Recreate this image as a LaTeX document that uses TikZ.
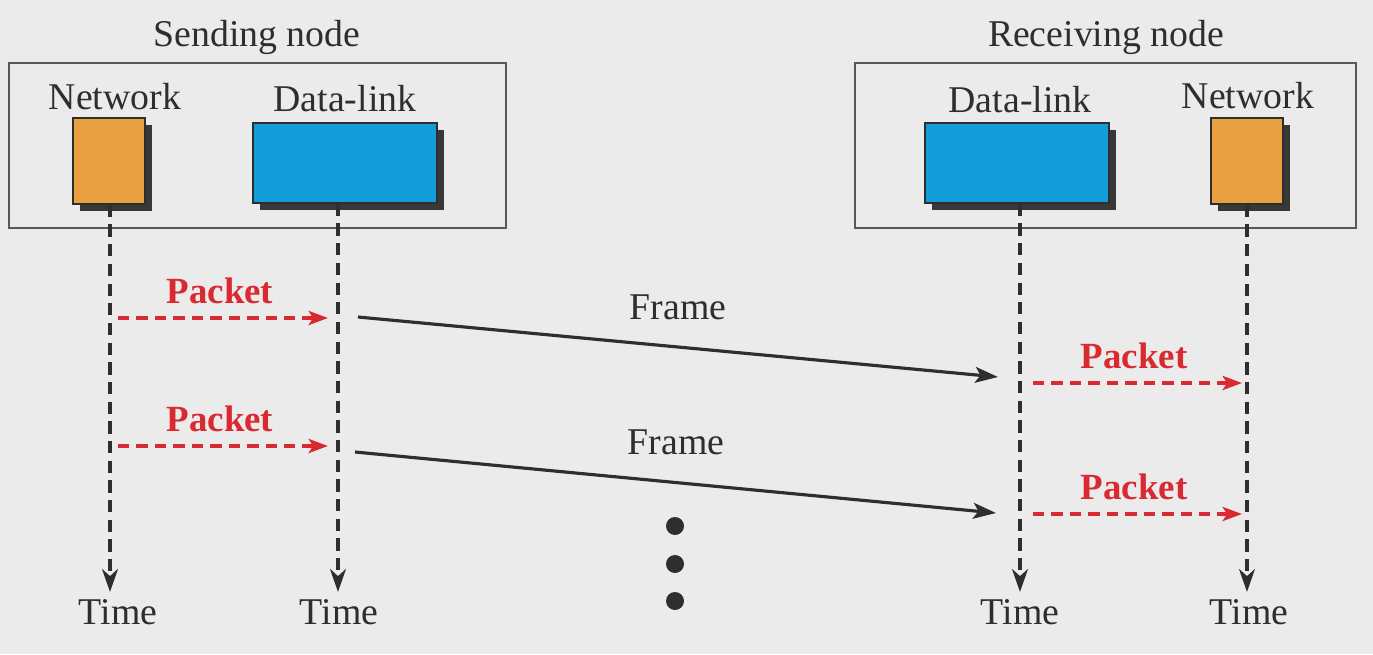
\documentclass[tikz,border=0pt]{standalone}
\usepackage{fontspec}
\setmainfont{Liberation Serif}
\usetikzlibrary{arrows.meta,shadows}
\definecolor{bggray}{HTML}{EBEBEB}
\definecolor{netorange}{HTML}{E9A041}
\definecolor{linkblue}{HTML}{129DD9}
\definecolor{pktred}{HTML}{DA2A31}
\definecolor{ink}{HTML}{2E2E2E}
\tikzset{
  lbl/.style={text=ink, font=\fontsize{21.5}{25}\selectfont, inner sep=2pt},
  pktlbl/.style={text=pktred, font=\fontsize{21}{25}\selectfont\bfseries, inner sep=2pt},
  outerbox/.style={draw=ink!80, line width=1.4pt},
  layer/.style={draw=ink, line width=0.9pt,
    drop shadow={shadow xshift=0.14cm, shadow yshift=-0.14cm, fill=ink!95, opacity=1}},
  netbox/.style={layer, fill=netorange, minimum width=1.44cm, minimum height=1.72cm},
  linkbox/.style={layer, fill=linkblue, minimum width=3.68cm, minimum height=1.6cm},
  timeline/.style={draw=ink, line width=2.1pt, dash pattern=on 7pt off 4.2pt,
    -{Stealth[length=13pt, width=9pt, inset=4pt]}},
  pktarrow/.style={draw=pktred, line width=2pt, dash pattern=on 6.5pt off 4pt,
    -{Stealth[length=11pt, width=8pt, inset=2.5pt]}},
  framearrow/.style={draw=ink, line width=1.8pt,
    -{Stealth[length=13pt, width=9pt, inset=3pt]}},
  dot/.style={circle, fill=ink, inner sep=0pt, minimum size=0.36cm}
}
\begin{document}
\begin{tikzpicture}[x=0.02cm, y=-0.02cm]
  \fill[bggray] (0,0) rectangle (1373,654);
  \useasboundingbox (0,0) rectangle (1373,654);
  % the two nodes
  \node[outerbox, minimum width=9.94cm, minimum height=3.3cm] (send) at (257.5,145.5) {};
  \node[outerbox, minimum width=10.02cm, minimum height=3.3cm] (recv) at (1105.5,145.5) {};
  \node[lbl] (sendlbl) at (257,37) {Sending node};
  \node[lbl] (recvlbl) at (1106,37) {Receiving node};
  % layers
  \node[netbox] (netS) at (109,161) {};
  \node[linkbox] (linkS) at (345,163) {};
  \node[linkbox] (linkR) at (1017,163) {};
  \node[netbox] (netR) at (1247,161) {};
  \node[lbl] (netSlbl) at (115,97) {Network};
  \node[lbl] (linkSlbl) at (345,99) {Data-link};
  \node[lbl] (linkRlbl) at (1020,100) {Data-link};
  \node[lbl] (netRlbl) at (1248,96) {Network};
  % time axes
  \node[lbl] (tNS) at (118,612) {Time};
  \node[lbl] (tLS) at (339,612) {Time};
  \node[lbl] (tLR) at (1020,612) {Time};
  \node[lbl] (tNR) at (1249,612) {Time};
  \begin{scope}[shorten >=2pt]
    \draw[timeline] (netS.south -| 110,0) -- (tNS.north -| 110,0);
    \draw[timeline] (linkS.south -| 338,0) -- (tLS.north -| 338,0);
    \draw[timeline] (linkR.south -| 1020,0) -- (tLR.north -| 1020,0);
    \draw[timeline] (netR.south -| 1247,0) -- (tNR.north -| 1247,0);
  \end{scope}
  % packets and frames
  \coordinate (pk1a) at (118,318);
  \coordinate (pk1b) at (328,318);
  \coordinate (pk2a) at (118,446);
  \coordinate (pk2b) at (328,446);
  \coordinate (pk3a) at (1033,383);
  \coordinate (pk3b) at (1242,383);
  \coordinate (pk4a) at (1033,514);
  \coordinate (pk4b) at (1242,514);
  \coordinate (fr1a) at (358,317);
  \coordinate (fr1b) at (998,377);
  \coordinate (fr2a) at (355,452);
  \coordinate (fr2b) at (996,513);
  \draw[pktarrow] (pk1a) -- (pk1b);
  \draw[pktarrow] (pk2a) -- (pk2b);
  \draw[pktarrow] (pk3a) -- (pk3b);
  \draw[pktarrow] (pk4a) -- (pk4b);
  \draw[framearrow] (fr1a) -- (fr1b);
  \draw[framearrow] (fr2a) -- (fr2b);
  \node[pktlbl] (pk1) at (220,291) {Packet};
  \node[pktlbl] (pk2) at (220,419) {Packet};
  \node[pktlbl] (pk3) at (1134,356) {Packet};
  \node[pktlbl] (pk4) at (1134,487) {Packet};
  \node[lbl] (fr1) at (678,307) {Frame};
  \node[lbl] (fr2) at (676,442) {Frame};
  % more frames follow
  \node[dot] (d1) at (675,526) {};
  \node[dot] (d2) at (675,564) {};
  \node[dot] (d3) at (675,601) {};
\end{tikzpicture}
\end{document}
